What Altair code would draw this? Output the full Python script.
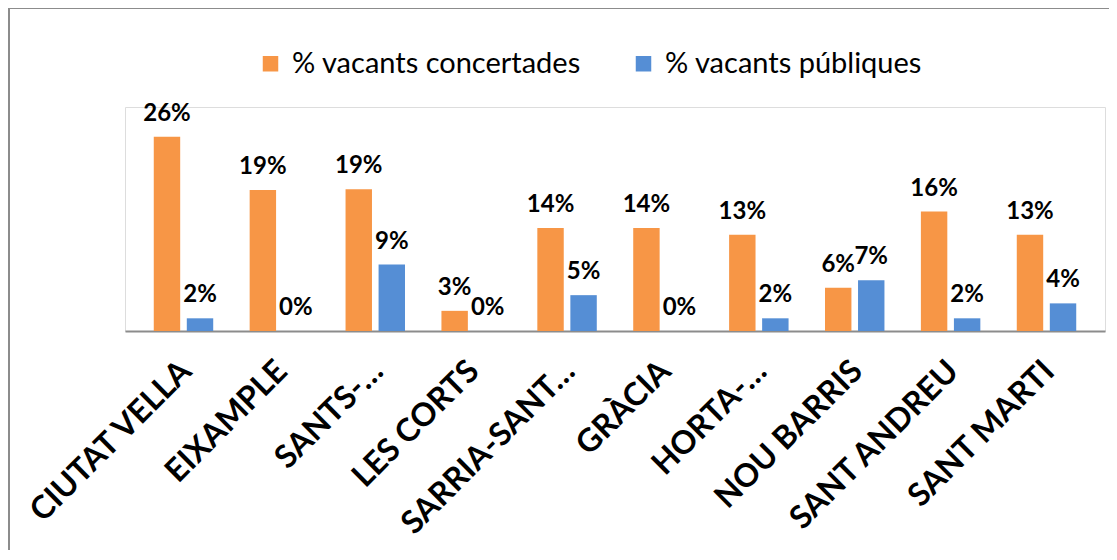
import altair as alt
import pandas as pd

districts = ["CIUTAT VELLA", "EIXAMPLE", "SANTS-…", "LES CORTS", "SARRIA-SANT…",
             "GRÀCIA", "HORTA-…", "NOU BARRIS", "SANT ANDREU", "SANT MARTI"]
concertades = [0.260, 0.189, 0.190, 0.027, 0.138, 0.138, 0.129, 0.058, 0.160, 0.129]
publiques = [0.017, 0.0, 0.089, 0.0, 0.048, 0.0, 0.017, 0.068, 0.017, 0.037]
series = ["% vacants concertades", "% vacants públiques"]
colors = ["#F79646", "#558ED5"]

rows = []
for d, c, p in zip(districts, concertades, publiques):
    rows.append({"district": d, "series": series[0], "value": c})
    rows.append({"district": d, "series": series[1], "value": p})
df = pd.DataFrame(rows)

FONT = "Lato"

x_enc = alt.X("district:N", sort=districts, title=None,
              scale=alt.Scale(paddingInner=0.38, paddingOuter=0.3),
              axis=alt.Axis(labelAngle=-45, labelFont=FONT, labelFontSize=32,
                            labelFontWeight="bold", labelColor="#000000",
                            labelPadding=24, labelOffset=-8, ticks=False,
                            domainColor="#8C8C8C", domainWidth=2,
                            labelOverlap=False, labelLimit=400))
xoff = alt.XOffset("series:N", sort=series, scale=alt.Scale(paddingInner=0.2))
y_enc = alt.Y("value:Q", scale=alt.Scale(domain=[0, 0.30]), axis=None)

bars = alt.Chart(df).mark_bar().encode(
    x=x_enc, xOffset=xoff, y=y_enc,
    color=alt.Color("series:N", sort=series,
                    scale=alt.Scale(domain=series, range=colors),
                    legend=alt.Legend(title=None, orient="none", direction="horizontal",
                                      legendX=131, legendY=-58, symbolType="square",
                                      symbolSize=240, symbolStrokeWidth=0,
                                      labelFont=FONT, labelFontSize=29,
                                      labelColor="#000000", labelOffset=7,
                                      labelLimit=600, columnPadding=48)),
)

labels = alt.Chart(df).mark_text(font=FONT, fontSize=24, fontWeight="bold",
                                 color="#000000", baseline="alphabetic", dy=-16).encode(
    x=alt.X("district:N", sort=districts), xOffset=xoff, y=y_enc,
    text=alt.Text("value:Q", format=".0%"),
)

border_df = pd.DataFrame({"b": [1]})
border = alt.Chart(border_df).mark_rect(fill=None, stroke="#8C8C8C", strokeWidth=2).encode(
    x=alt.value(-116), x2=alt.value(1200), y=alt.value(-99), y2=alt.value(800))

chart = alt.layer(border, bars, labels).properties(
    width=980, height=224,
    autosize=alt.AutoSizeParams(type="none"),
    padding={"left": 117, "top": 99, "right": 4, "bottom": 219},
).configure_view(stroke=None).configure(background="white")

chart.save("out.html", embed_options={"renderer": "svg", "actions": False})
